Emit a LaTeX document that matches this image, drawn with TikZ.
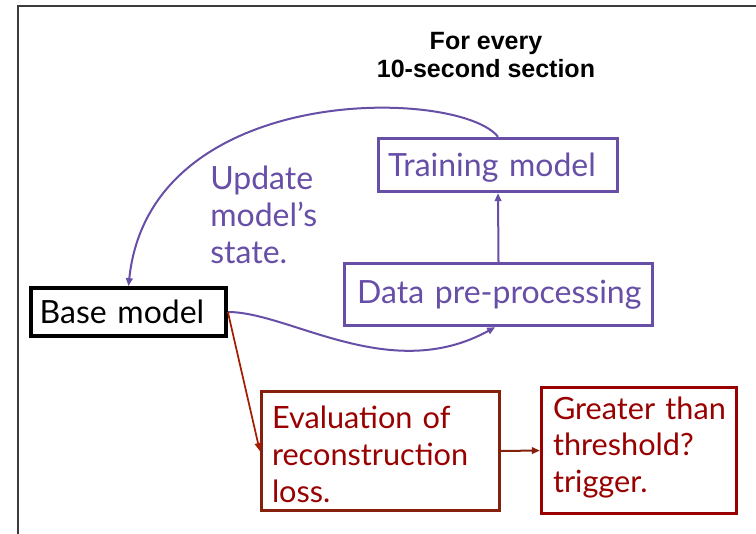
\documentclass[tikz,border=0pt]{standalone}
\usepackage{fontspec}
\setmainfont{Lato}
\newfontfamily\titlefont{Liberation Sans}
\usetikzlibrary{arrows.meta}
\definecolor{dpurple}{HTML}{674EA7}
\definecolor{evalred}{HTML}{85200C}
\definecolor{txtred}{HTML}{990000}
\definecolor{arrred}{HTML}{A61C00}
\definecolor{framegray}{HTML}{3C3C3C}
\tikzset{
  boxbase/.style={draw, rectangle, align=left, font=\fontsize{24}{28}\selectfont, inner ysep=0pt},
  purplebox/.style={boxbase, draw=dpurple, text=dpurple, line width=2.5pt},
  blackbox/.style={boxbase, draw=black, text=black, line width=2.8pt},
  evalbox/.style={boxbase, draw=evalred, text=txtred, line width=2.5pt, font=\fontsize{23}{28}\selectfont},
  greaterbox/.style={boxbase, draw=txtred, text=txtred, line width=2.5pt, font=\fontsize{23}{27.5}\selectfont},
  parrow/.style={draw=dpurple, line width=1.5pt, -{Triangle[length=6pt,width=5pt]}},
  rarrow/.style={draw=arrred, line width=1.3pt, -{Triangle[length=6pt,width=5pt]}},
  earrow/.style={draw=evalred, line width=1.5pt, -{Triangle[length=6pt,width=5pt]}}
}
\begin{document}
\begin{tikzpicture}[x=0.75pt,y=-0.75pt]
\useasboundingbox (0,0) rectangle (756,534);
\fill[white] (0,0) rectangle (756,534);
\draw[framegray, line width=1.5pt] (18,534) -- (18,6) -- (756,6);

\node[anchor=north, inner sep=0pt, align=center, font=\titlefont\bfseries\fontsize{18.75}{21}\selectfont] (title) at (486,32) {For every\\10-second section};

\node[purplebox, minimum width=179.25pt, minimum height=39.75pt, inner xsep=7.125pt, text width=165pt, text depth=0pt] (train) at (498,165) {\mbox{Training model}};
\node[purplebox, minimum width=231pt, minimum height=46.5pt, inner xsep=9.5pt, text width=212pt] (data) at (498.5,294.5) {\mbox{Data pre-processing}};
\node[blackbox, minimum width=146.25pt, minimum height=36pt, inner xsep=6.5pt, text width=133.25pt] (base) at (128.5,312) {\mbox{Base model}};
\node[evalbox, minimum width=178.5pt, minimum height=89.25pt, inner xsep=7.875pt, text width=162.75pt] (eval) at (380.5,451) {\rule{0pt}{22pt}\mbox{Evaluation of}\\\mbox{reconstruction}\\\mbox{loss.}};
\node[greaterbox, minimum width=146.25pt, minimum height=94.5pt, inner xsep=8.625pt, text width=129pt] (greater) at (639,450.5) {\mbox{Greater than}\\\mbox{threshold?}\\\mbox{trigger.}\rule[-9pt]{0pt}{0pt}};

\node[anchor=north west, inner sep=0pt, align=left, text=dpurple, font=\fontsize{24}{27.75}\selectfont] (update) at (210,166) {Update\\model’s\\state.};

\draw[parrow] (train.north) .. controls (460,88) and (150,80) .. (base.north);
\draw[parrow] (data.north) -- (train.south);
\draw[parrow] (base.east) .. controls (290,312) and (390,385) .. ([xshift=-2.5pt]data.south);
\draw[rarrow] (base.east) -- (eval.west);
\draw[earrow] (eval.east) -- (greater.west);
\end{tikzpicture}
\end{document}
